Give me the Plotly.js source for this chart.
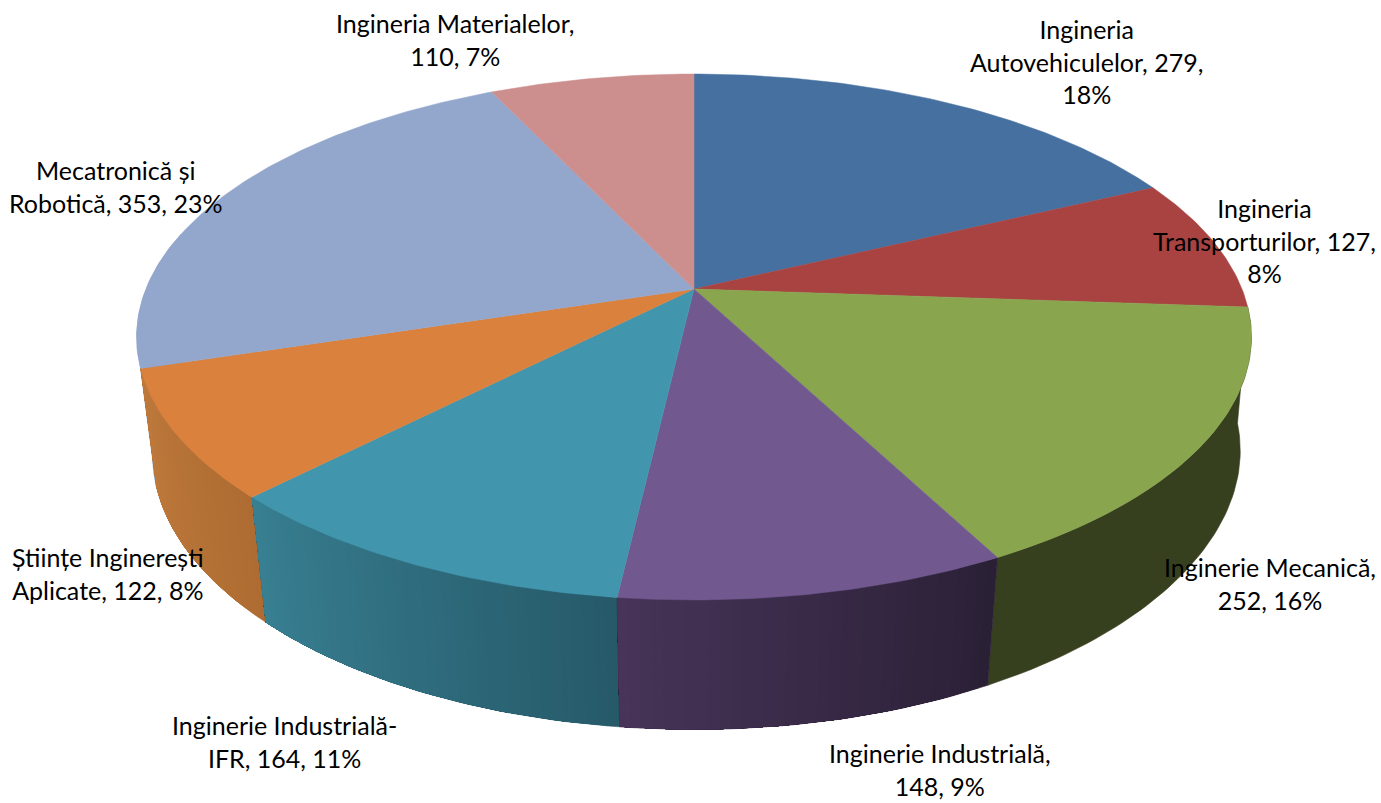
<!DOCTYPE html>
<html>
<head>
<meta charset="utf-8">
<script src="https://cdn.plot.ly/plotly-3.0.1.min.js"></script>
<style>html,body{margin:0;padding:0;background:#fff}#chart{width:1381px;height:803px}</style>
</head>
<body>
<div id="chart"></div>
<script>
const categories = ["Ingineria Autovehiculelor","Ingineria Transporturilor","Inginerie Mecanică","Inginerie Industrială","Inginerie Industrială-IFR","Științe Inginerești Aplicate","Mecatronică și Robotică","Ingineria Materialelor"];
const values = [279,127,252,148,164,122,353,110];
const labelTexts = [
  "Ingineria<br>Autovehiculelor, 279,<br>18%",
  "Ingineria<br>Transporturilor, 127,<br>8%",
  "Inginerie Mecanică,<br>252, 16%",
  "Inginerie Industrială,<br>148, 9%",
  "Inginerie Industrială-<br>IFR, 164, 11%",
  "Științe Inginerești<br>Aplicate, 122, 8%",
  "Mecatronică și<br>Robotică, 353, 23%",
  "Ingineria Materialelor,<br>110, 7%"
];
const labelX = [1086,1264,1270,940,284,108,115,455];
const labelY = [61,240,583,769.5,741,573,186,39];
const topColors = ["#46709F","#A84342","#89A54E","#71588F","#4196AE","#D9813D","#93A7CD","#CD8F8E"];
// wall colour at the start and end of each slice's arc (clockwise)
const wallStart = ["#2A4365","#642827","#37401E","#2A2036","#265A69","#AF6C32","#93A7CD","#CD8F8E"];
const wallEnd   = ["#2A4365","#642827","#37401E","#473458","#387F92","#BE7A3C","#93A7CD","#CD8F8E"];

// Projection of the tilted disc (perspective), z=0 top face, z=1 bottom face
const cx=694, cy=289, A=548, B=254.2, C=118.2, K=0.1825, M=0.028;
function project(deg,z){
  const t=deg*Math.PI/180, u=Math.sin(t), v=Math.cos(t), w=1+K*v+M*z;
  const bulge = u>0 ? 5*z*Math.pow(u,6) : 0;   // the reference's lower edge reaches further out on the right
  return [cx+A*u/w+bulge, cy+(C*z-B*v)/w];
}
function mix(a,b,f){
  const p=s=>[1,3,5].map(i=>parseInt(s.substr(i,2),16));
  const x=p(a),y=p(b);
  return "rgb("+x.map((c,i)=>Math.round(c+(y[i]-c)*f)).join(",")+")";
}
const total=values.reduce((a,b)=>a+b,0);
const edges=[0]; values.forEach(v=>edges.push(edges[edges.length-1]+v/total*360));

function strip(a0,a1,color,lineWidth){
  const n=Math.max(1,Math.ceil((a1-a0)/1)), top=[], bot=[];
  for(let j=0;j<=n;j++){
    const a=a0+(a1-a0)*j/n;
    top.push(project(a,0)); bot.unshift(project(a,1));
  }
  const p=top.concat(bot); p.push(p[0]);
  return {type:"scatter",mode:"lines",x:p.map(q=>q[0]),y:p.map(q=>q[1]),fill:"toself",fillcolor:color,
    line:{color:color,width:lineWidth},hoverinfo:"skip",showlegend:false};
}

const wallTraces=[], topTraces=[];
const visFrom=94.1, visTo=283, step=1;
// slices nearest the front are painted last, so a slice wrapping past the silhouette stays behind
const paintOrder=values.map((v,i)=>i).sort((a,b)=>
  Math.abs((edges[b]+edges[b+1])/2-180)-Math.abs((edges[a]+edges[a+1])/2-180));
paintOrder.forEach(i=>{
  const s=Math.max(edges[i],visFrom), e=Math.min(edges[i+1],visTo);
  if(e<=s) return;
  wallTraces.push(strip(s,e,wallStart[i],0.6));
  if(wallStart[i]===wallEnd[i]) return;
  const n=Math.ceil((e-s)/step);
  // each step repaints from its start to the slice end, so no seams let the backdrop through
  for(let j=1;j<n;j++){
    wallTraces.push(strip(s+(e-s)*j/n,e,mix(wallStart[i],wallEnd[i],(j+0.5)/n),0));
  }
});

values.forEach((val,i)=>{
  const xs=[cx],ys=[cy];
  const n=Math.ceil((edges[i+1]-edges[i])/0.75);
  for(let j=0;j<=n;j++){
    const q=project(edges[i]+(edges[i+1]-edges[i])*j/n,0);
    xs.push(q[0]);ys.push(q[1]);
  }
  xs.push(cx);ys.push(cy);
  topTraces.push({type:"scatter",mode:"lines",x:xs,y:ys,fill:"toself",fillcolor:topColors[i],
    line:{color:topColors[i],width:0.5},name:categories[i],hoverinfo:"skip",showlegend:false});
});

const annotations=labelTexts.map((t,i)=>({x:labelX[i],y:labelY[i],xref:"x",yref:"y",text:t,showarrow:false,
  xanchor:"center",yanchor:"middle",align:"center",font:{family:"Lato, Carlito, sans-serif",size:25,color:"#000"}}));

Plotly.newPlot("chart",wallTraces.concat(topTraces),{
  width:1381,height:803,margin:{l:0,r:0,t:0,b:0},paper_bgcolor:"#fff",plot_bgcolor:"#fff",showlegend:false,hovermode:false,
  xaxis:{range:[0,1381],visible:false,fixedrange:true},
  yaxis:{range:[803,0],visible:false,fixedrange:true},
  annotations:annotations
},{displayModeBar:false,staticPlot:true});
</script>
</body>
</html>
